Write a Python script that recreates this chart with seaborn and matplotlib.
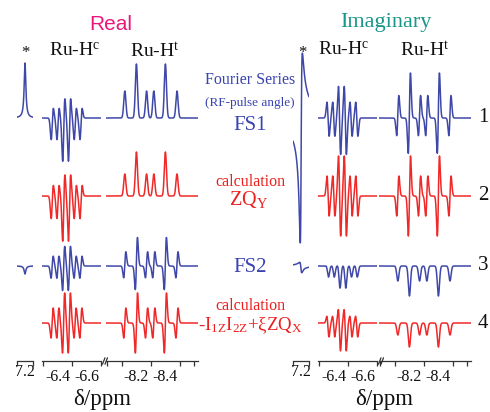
import numpy as np
import matplotlib.pyplot as plt
import seaborn as sns

# ------------------------------------------------------------
# Data (ppm, relative intensities and
# absorptive / dispersive amplitudes in pixel units)
# ------------------------------------------------------------

STAR_PPM = [7.20]
STAR_INT = [1]
HC_PPM = [-6.36, -6.40, -6.44, -6.48, -6.52, -6.56]
HC_INT = [1, 1, 2, 2, 1, 1]
HT_PPM = [-8.12, -8.20, -8.27, -8.32, -8.40, -8.48]
HT_INT = [1, 2, 1, 1, 2, 1]

# [absorptive, dispersive] amplitude for rows 1..4 (None = not drawn)
REAL_STAR = [[55, 0], None, [-8, 0], None]
REAL_HC = [[-10, -15], [-10, -16], [-2, -11], [0, -15]]
REAL_HT = [[27, 0], [22, 0], [2, -13], [0, -15]]

IMAG_STAR = [[-60, -90], None, [-3, 5], None]
IMAG_HC = [[-2, 17], [0, 20], [-10, 3], [-6, 10]]
IMAG_HT = [[4, -20], [0, -20], [-15, 0], [-12, 0]]

ROW_COLORS = ["#3f48a8", "#f02828", "#3f48a8", "#f02828"]
ROW_NUMBERS = ["1", "2", "3", "4"]

STAR_TICKS = [7.2]
STAR_LABELS = ["7.2"]
HC_TICKS = [-6.4, -6.6]
HC_LABELS = ["-6.4", "-6.6"]
HT_TICKS = [-8.2, -8.4]
HT_LABELS = ["-8.2", "-8.4"]

# ------------------------------------------------------------
# Layout
# ------------------------------------------------------------

W, H = 490, 412
ROW_BASE = [243, 165, 95, 38]   # baseline of each trace above the axis line (px)
AX_TOP, AX_BOTTOM = 40, 361

SEG_LIM = {
    "star": (7.30, 7.10),
    "hc": (-6.29, -6.70),
    "ht": (-7.99, -8.625),
}
SEG_WIDTH = {"star": 0.0125, "hc": 0.0075, "ht": 0.0075}
SEG_SHAPE = {"star": "lorentz", "hc": "gauss", "ht": "gauss"}
PANEL_PX = {
    "real": {"star": (17, 33), "hc": (42, 101), "ht": (106, 198)},
    "imag": {"star": (293, 309), "hc": (318, 377), "ht": (379, 471)},
}

sns.set_theme(style="white")
plt.rcParams["font.family"] = ["Liberation Serif", "DejaVu Serif"]
plt.rcParams["mathtext.fontset"] = "custom"
plt.rcParams["mathtext.rm"] = "Liberation Serif"
plt.rcParams["mathtext.it"] = "Liberation Serif:italic"

fig = plt.figure(figsize=(W / 100, H / 100), dpi=100)


def add_px_axes(x0, x1):
    return fig.add_axes([
        x0 / W,
        1 - AX_BOTTOM / H,
        (x1 - x0) / W,
        (AX_BOTTOM - AX_TOP) / H,
    ])


def spectrum(x, ppm, intens, amp, width, shape):
    y = np.zeros_like(x)
    for p, i in zip(ppm, intens):
        d = x - p
        if shape == "lorentz":
            absorb = width ** 2 / (width ** 2 + d ** 2)
            disp = 2 * width * d / (width ** 2 + d ** 2)
        else:
            u = d / width
            absorb = np.exp(-0.5 * u ** 2)
            disp = u * np.exp(0.5 - 0.5 * u ** 2)
        y += i * (amp[0] * absorb + amp[1] * disp)
    return y


def ftext(xp, yp, s, **kw):
    fig.text(xp / W, 1 - yp / H, s, ha="center", va="center", **kw)


LINES = {
    "star": (STAR_PPM, STAR_INT),
    "hc": (HC_PPM, HC_INT),
    "ht": (HT_PPM, HT_INT),
}
TICKS = {
    "star": (STAR_TICKS, STAR_LABELS, [7.3, 7.1]),
    "hc": (HC_TICKS, HC_LABELS, [-6.3, -6.5, -6.7]),
    "ht": (HT_TICKS, HT_LABELS, [-8.0, -8.1, -8.3, -8.5, -8.6]),
}
AMPS = {
    "real": {"star": REAL_STAR, "hc": REAL_HC, "ht": REAL_HT},
    "imag": {"star": IMAG_STAR, "hc": IMAG_HC, "ht": IMAG_HT},
}

for panel, segs in PANEL_PX.items():
    for seg, (x0, x1) in segs.items():
        ax = add_px_axes(x0, x1)
        ax.patch.set_alpha(0)
        lo, hi = SEG_LIM[seg]
        x = np.linspace(lo, hi, 1500)
        ppm, intens = LINES[seg]

        for row, amp in enumerate(AMPS[panel][seg]):
            if amp is None:
                continue
            y = ROW_BASE[row] + spectrum(
                x, ppm, intens, amp, SEG_WIDTH[seg], SEG_SHAPE[seg]
            )
            sns.lineplot(
                x=x, y=y, ax=ax,
                color=ROW_COLORS[row],
                linewidth=1.1,
                estimator=None,
                sort=False,
                legend=False,
            )

        ax.set_xlim(lo, hi)
        ax.set_ylim(0, AX_BOTTOM - AX_TOP)
        ax.set(xlabel="", ylabel="")
        ax.set_yticks([])
        for side in ["left", "right", "top"]:
            ax.spines[side].set_visible(False)
        ax.spines["bottom"].set_color("#333333")
        ax.spines["bottom"].set_linewidth(0.9)

        major, labels, minor = TICKS[seg]
        ax.set_xticks(major)
        ax.set_xticklabels(labels)
        ax.set_xticks(minor, minor=True)
        ax.tick_params(axis="x", which="major", direction="out",
                       length=0 if seg == "star" else 3.5, width=0.9,
                       color="#333333", pad=2, labelsize=11.5,
                       labelcolor="#111111")
        ax.tick_params(axis="x", which="minor", direction="out",
                       length=3.5, width=0.9, color="#333333", bottom=True)

        # axis break marks after the Ru-Hc segment
        if seg == "hc":
            w_px = x1 - x0
            for off in (1.5, 4.0):
                ax.plot(
                    [1 + off / w_px, 1 + (off + 2.5) / w_px],
                    [-0.010, 0.010],
                    transform=ax.transAxes,
                    color="#333333",
                    linewidth=0.9,
                    clip_on=False,
                )

# ------------------------------------------------------------
# Annotations
# ------------------------------------------------------------

ftext(111, 25, "Real", color="#e8187a", fontsize=15,
      family=["Liberation Sans", "DejaVu Sans"])
ftext(386, 23, "Imaginary", color="#1a9688", fontsize=16)

for dx in (0, 277):
    ftext(25 + dx, 53, "*", fontsize=12, color="#111111")
ftext(75, 51, r"Ru-H$^\mathregular{c}$", fontsize=14, color="#111111")
ftext(155, 51, r"Ru-H$^\mathregular{t}$", fontsize=14, color="#111111")
ftext(344, 50, r"Ru-H$^\mathregular{c}$", fontsize=14, color="#111111")
ftext(425, 50, r"Ru-H$^\mathregular{t}$", fontsize=14, color="#111111")

BLUE_TXT = "#3a44b0"
RED_TXT = "#ec1f1f"
ftext(250, 80, "Fourier Series", fontsize=11.5, color=BLUE_TXT)
ftext(250, 103, "(RF-pulse angle)", fontsize=9.5, color=BLUE_TXT)
ftext(250, 126, "FS1", fontsize=15, color=BLUE_TXT)
ftext(250, 182, "calculation", fontsize=11.5, color=RED_TXT)
ftext(248, 200, r"ZQ$_\mathregular{Y}$", fontsize=14.5, color=RED_TXT)
ftext(250, 268, "FS2", fontsize=15, color=BLUE_TXT)
ftext(250, 306, "calculation", fontsize=11.5, color=RED_TXT)
ftext(250, 326,
      r"-I$_\mathregular{1Z}$I$_\mathregular{2Z}$+ξZQ$_\mathregular{X}$",
      fontsize=13.5, color=RED_TXT)

for num, ypx in zip(ROW_NUMBERS, [118, 196, 266, 323]):
    ftext(483, ypx, num, fontsize=15, color="#111111")

ftext(102, 400, "δ/ppm", fontsize=16.5, color="#111111")
ftext(384, 400, "δ/ppm", fontsize=16.5, color="#111111")

fig.savefig("out.png", dpi=100)
